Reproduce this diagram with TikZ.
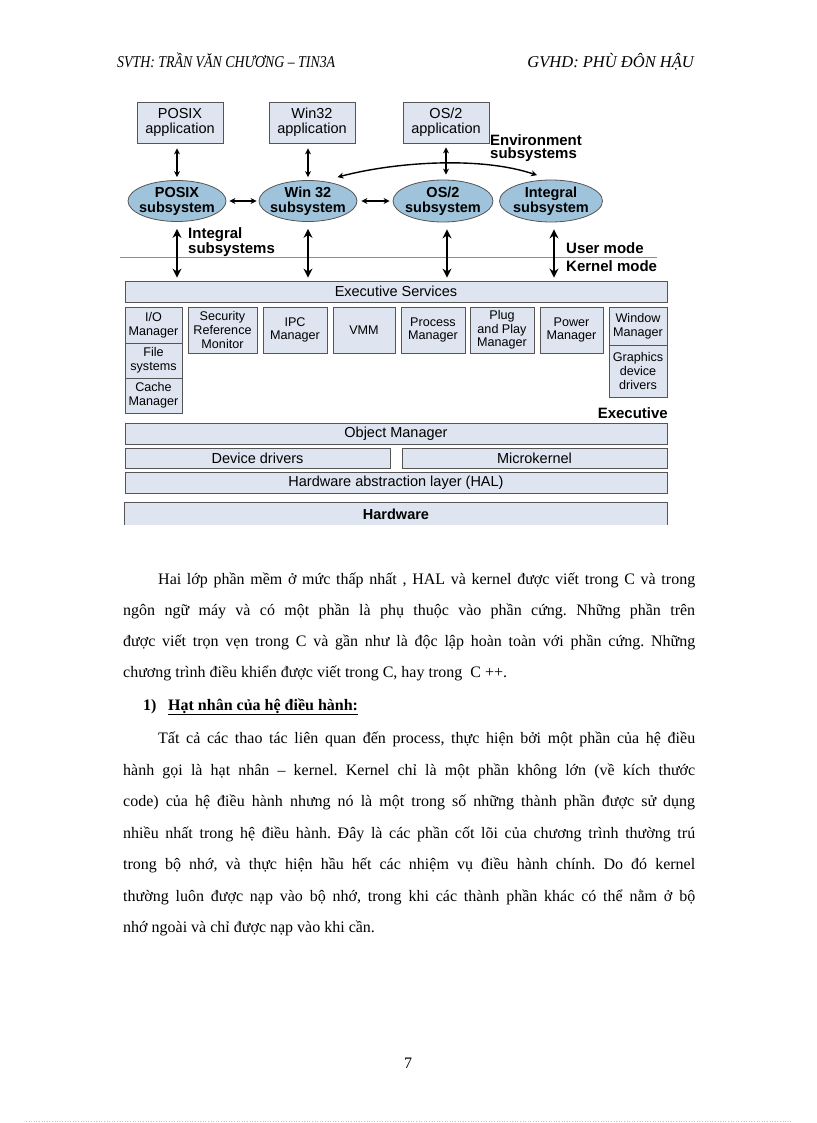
\documentclass[tikz,border=0pt]{standalone}
\usepackage{fontspec}
\usepackage{graphicx}
\setmainfont{Liberation Serif}
\newfontfamily\diag{Liberation Sans}
\usetikzlibrary{arrows.meta,shapes.geometric}
\definecolor{boxfill}{RGB}{222,229,240}
\definecolor{boxline}{RGB}{85,85,85}
\definecolor{ellfill}{RGB}{158,195,219}
\definecolor{modeline}{RGB}{140,140,140}
\newcommand\jline[1]{\makebox[572pt][s]{#1}}
\newcommand\jind[1]{\makebox[537pt][s]{#1}}
\frenchspacing
\begin{document}
\begin{tikzpicture}[x=1pt,y=-1pt,
  box/.style={draw=boxline, fill=boxfill, line width=0.8pt, inner sep=0pt, align=center,
    font=\diag\fontsize{14.5}{15.5}\selectfont},
  sbox/.style={box, font=\diag\fontsize{12.6}{13.6}\selectfont},
  sub/.style={ellipse, draw=boxline, fill=ellfill, line width=0.8pt, inner xsep=-8pt, inner ysep=-3pt, align=center,
    font=\diag\bfseries\fontsize{14.5}{15}\selectfont},
  lbl/.style={font=\diag\bfseries\fontsize{15}{13}\selectfont, inner sep=0pt, align=left},
  thinarr/.style={{Stealth[length=6pt,width=6pt]}-{Stealth[length=6pt,width=6pt]}, line width=1.4pt},
  thickarr/.style={{Stealth[length=9pt,width=9pt]}-{Stealth[length=9pt,width=9pt]}, line width=2.5pt},
  body/.style={anchor=base west, inner sep=0pt, font=\fontsize{16}{19}\selectfont},
  hdr/.style={inner sep=0pt, font=\itshape\fontsize{16.5}{18}\selectfont}]
\useasboundingbox[fill=white] (0,0) rectangle (816,1123);

% header
\node[hdr, anchor=base west] (hleft) at (117,68) {\scalebox{0.84}[1]{SVTH: TRẦN VĂN CHƯƠNG – TIN3A}};
\node[hdr, anchor=base east] (hright) at (694,68) {GVHD: PHÙ ĐÔN HẬU};

% applications
\node[box, minimum width=86pt, minimum height=41pt] (posixapp) at (180,122.5) {POSIX\\application};
\node[box, minimum width=86pt, minimum height=41pt] (win32app) at (312,122.5) {Win32\\application};
\node[box, minimum width=86pt, minimum height=41pt] (os2app) at (446,122.5) {OS/2\\application};

% subsystems
\node[sub, minimum width=98pt, minimum height=41pt] (posixsub) at (177,201) {POSIX\\subsystem};
\node[sub, minimum width=98pt, minimum height=41pt] (win32sub) at (308,201) {Win 32\\subsystem};
\node[sub, minimum width=100pt, minimum height=42pt] (os2sub) at (443,201) {OS/2\\subsystem};
\node[sub, minimum width=103pt, minimum height=42pt] (intsub) at (551,201) {Integral\\subsystem};

% labels
\node[lbl, anchor=north west] (envlbl) at (490,134) {Environment\\subsystems};
\node[lbl, anchor=north west] (intlbl) at (188,227) {Integral\\subsystems};
\node[lbl, anchor=base west] (usermode) at (566,253) {User mode};
\node[lbl, anchor=base west] (kernelmode) at (566,271) {Kernel mode};
\draw[modeline, line width=1pt] (120,257) coordinate (ml) -- (657,257) coordinate (mr);

% executive
\node[box, minimum width=542pt, minimum height=21pt] (exec) at (396,291.5) {Executive Services};
\node[sbox, minimum width=57pt, minimum height=36pt] (io) at (153.5,325) {I/O\\Manager};
\node[sbox, minimum width=57pt, minimum height=35pt] (fs) at (153.5,360.5) {File\\systems};
\node[sbox, minimum width=57pt, minimum height=35pt] (cache) at (153.5,395.5) {Cache\\Manager};
\node[sbox, minimum width=69pt, minimum height=46pt] (secref) at (222.5,330) {Security\\Reference\\Monitor};
\node[sbox, minimum width=64pt, minimum height=46pt] (ipc) at (295,330) {IPC\\Manager};
\node[sbox, minimum width=62pt, minimum height=46pt] (vmm) at (364,330) {VMM};
\node[sbox, minimum width=64pt, minimum height=46pt] (proc) at (433,330) {Process\\Manager};
\node[sbox, minimum width=64pt, minimum height=46pt] (pnp) at (502,330) {Plug\\and Play\\Manager};
\node[sbox, minimum width=63pt, minimum height=46pt] (power) at (571.5,330) {Power\\Manager};
\node[sbox, minimum width=58pt, minimum height=38pt] (winmgr) at (638,326) {Window\\Manager};
\node[sbox, minimum width=58pt, minimum height=52pt] (gdd) at (638,371) {Graphics\\device\\drivers};
\node[lbl, anchor=base east] (execlbl) at (668,418) {Executive};

% kernel layers
\node[box, minimum width=542pt, minimum height=21pt] (objmgr) at (396,433.5) {Object Manager};
\node[box, minimum width=265pt, minimum height=20pt] (devdrv) at (257.5,458) {Device drivers};
\node[box, minimum width=265pt, minimum height=20pt] (micro) at (534.5,458) {Microkernel};
\node[box, minimum width=542pt, minimum height=21pt] (hal) at (396,482.5) {Hardware abstraction layer (HAL)};
\node[fill=boxfill, inner sep=0pt, minimum width=542pt, minimum height=22pt,
  font=\diag\bfseries\fontsize{14.5}{15}\selectfont] (hw) at (396,514) {Hardware};
\draw[boxline, line width=0.8pt] (hw.south west) -- (hw.north west) -- (hw.north east) -- (hw.south east);

% thin arrows app <-> subsystem
\coordinate (a1) at (posixapp.south -| posixsub.north);
\coordinate (a2) at (win32app.south -| win32sub.north);
\coordinate (a3) at (os2app.south);
\coordinate (a3b) at (os2sub.north -| os2app.south);
\draw[thinarr] ([yshift=-5pt]a1) -- ([yshift=3pt]posixsub.north);
\draw[thinarr] ([yshift=-5pt]a2) -- ([yshift=3pt]win32sub.north);
\draw[thinarr] ([yshift=-4pt]a3) -- ([yshift=5pt]a3b);

% horizontal arrows
\draw[thinarr] ([xshift=3pt]posixsub.east) -- ([xshift=-2pt]win32sub.west);
\draw[thinarr] ([xshift=4pt]win32sub.east) -- ([xshift=-3pt]os2sub.west);

% environment curve
\draw[thinarr] ([shift={(4pt,6pt)}]win32sub.35) .. controls (395,162) and (480,156) .. ([shift={(-2pt,5pt)}]intsub.120);

% thick arrows subsystem <-> executive
\coordinate (e1) at (exec.north -| posixsub.south);
\coordinate (e2) at (exec.north -| win32sub.south);
\coordinate (e3s) at ([xshift=4pt]os2sub.south);
\coordinate (e3) at (exec.north -| e3s);
\coordinate (e4s) at ([xshift=3pt]intsub.south);
\coordinate (e4) at (exec.north -| e4s);
\draw[thickarr] ([yshift=-7pt]posixsub.south) -- ([yshift=3pt]e1);
\draw[thickarr] ([yshift=-7pt]win32sub.south) -- ([yshift=3pt]e2);
\draw[thickarr] ([yshift=-7pt]e3s) -- ([yshift=3pt]e3);
\draw[thickarr] ([yshift=-7pt]e4s) -- ([yshift=3pt]e4);

% body text
\node[body] (t1) at (158,584) {\jind{Hai lớp phần mềm ở mức thấp nhất , HAL và kernel được viết trong C và trong}};
\node[body] (t2) at (123,615) {\jline{ngôn ngữ máy và có một phần là phụ thuộc vào phần cứng. Những phần trên}};
\node[body] (t3) at (123,646) {\jline{được viết trọn vẹn trong C và gần như là độc lập hoàn toàn với phần cứng. Những}};
\node[body] (t4) at (123,677) {chương trình điều khiển được viết trong C, hay trong\ \ C ++.};
\node[body, font=\bfseries\fontsize{16}{19}\selectfont] (t5n) at (143,710) {1)};
\node[body, font=\bfseries\fontsize{16}{19}\selectfont] (t5) at (168,710) {\underline{Hạt nhân của hệ điều hành:}};
\node[body] (t6) at (158,743) {\jind{Tất cả các thao tác liên quan đến process, thực hiện bởi một phần của hệ điều}};
\node[body] (t7) at (123,775) {\jline{hành gọi là hạt nhân – kernel. Kernel chỉ là một phần không lớn (về kích thước}};
\node[body] (t8) at (123,806) {\jline{code) của hệ điều hành nhưng nó là một trong số những thành phần được sử dụng}};
\node[body] (t9) at (123,838) {\jline{nhiều nhất trong hệ điều hành. Đây là các phần cốt lõi của chương trình thường trú}};
\node[body] (t10) at (123,869) {\jline{trong bộ nhớ, và thực hiện hầu hết các nhiệm vụ điều hành chính. Do đó kernel}};
\node[body] (t11) at (123,901) {\jline{thường luôn được nạp vào bộ nhớ, trong khi các thành phần khác có thể nằm ở bộ}};
\node[body] (t12) at (123,932) {nhớ ngoài và chỉ được nạp vào khi cần.};

% page number and bottom rule
\node[body, anchor=base] (pnum) at (408,1068) {7};
\draw[gray!45, dotted, line width=0.6pt] (26,1121) -- (792,1121);
\end{tikzpicture}
\end{document}
